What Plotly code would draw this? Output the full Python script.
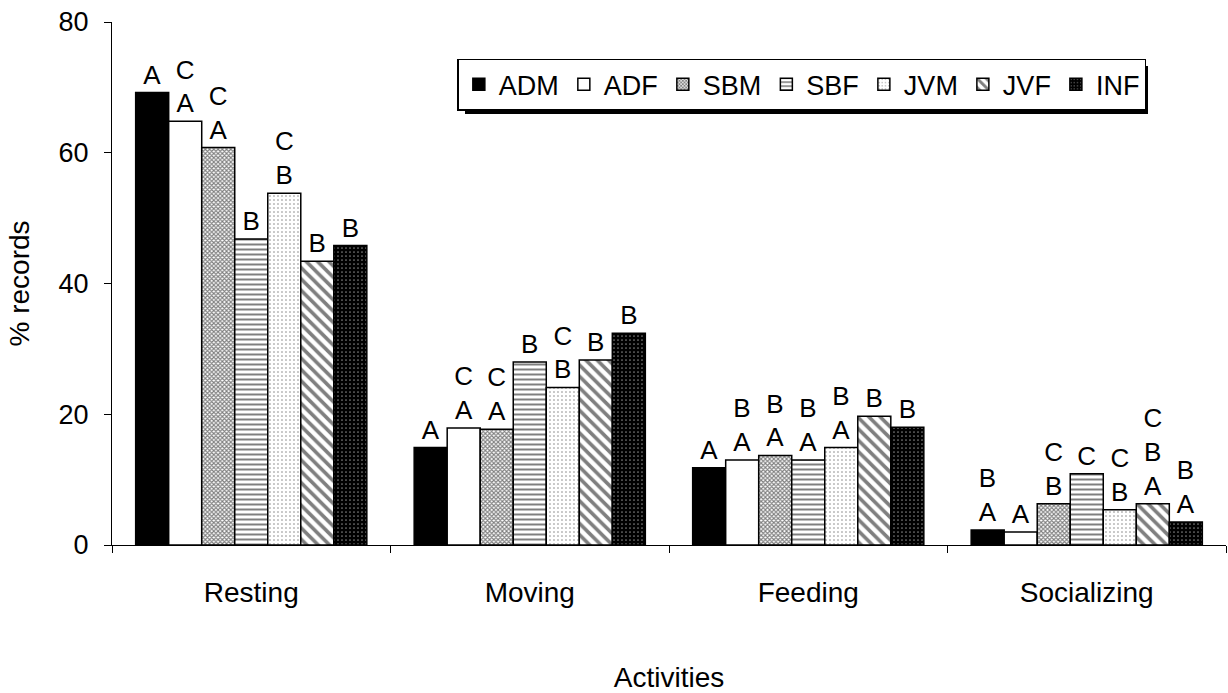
import plotly.graph_objects as go

categories = ["Resting", "Moving", "Feeding", "Socializing"]
groups = ["ADM", "ADF", "SBM", "SBF", "JVM", "JVF", "INF"]

ADM = [69.2, 14.9, 11.8, 2.3]
ADF = [64.8, 17.9, 13.0, 2.0]
SBM = [60.8, 17.7, 13.7, 6.3]
SBF = [46.8, 28.0, 13.0, 10.9]
JVM = [53.8, 24.1, 14.9, 5.4]
JVF = [43.4, 28.3, 19.7, 6.3]
INF = [45.8, 32.4, 18.0, 3.5]

ADM_letters = ["A", "A", "A", "B<br>A"]
ADF_letters = ["C<br>A", "C<br>A", "B<br>A", "A"]
SBM_letters = ["C<br>A", "C<br>A", "B<br>A", "C<br>B"]
SBF_letters = ["B", "B", "B<br>A", "C"]
JVM_letters = ["C<br>B", "C<br>B", "B<br>A", "C<br>B"]
JVF_letters = ["B", "B", "B", "C<br>B<br>A"]
INF_letters = ["B", "B", "B", "B<br>A"]

y_ticks = [0, 20, 40, 60, 80]

values = [ADM, ADF, SBM, SBF, JVM, JVF, INF]
letters = [ADM_letters, ADF_letters, SBM_letters, SBF_letters,
           JVM_letters, JVF_letters, INF_letters]

styles = {
    "ADM": dict(color="black"),
    "ADF": dict(color="white"),
    "SBM": dict(color="white", pattern=dict(shape="x", fgcolor="black", bgcolor="white",
                                            size=3, solidity=0.6, fillmode="overlay")),
    "SBF": dict(color="white", pattern=dict(shape="-", fgcolor="black", bgcolor="white",
                                            size=5, solidity=0.4, fillmode="overlay")),
    "JVM": dict(color="white", pattern=dict(shape=".", fgcolor="black", bgcolor="white",
                                            size=4, solidity=0.12, fillmode="overlay")),
    "JVF": dict(color="white", pattern=dict(shape="\\", fgcolor="black", bgcolor="white",
                                            size=8, solidity=0.45, fillmode="overlay")),
    "INF": dict(color="black", pattern=dict(shape=".", fgcolor="white", bgcolor="black",
                                            size=4, solidity=0.15, fillmode="overlay")),
}

FONT = "Liberation Sans, Arial, sans-serif"

fig = go.Figure()
for name, vals, labs in zip(groups, values, letters):
    st = styles[name]
    marker = dict(color=st["color"], line=dict(color="black", width=1.5))
    if "pattern" in st:
        marker["pattern"] = st["pattern"]
    fig.add_trace(go.Bar(
        name=name, x=categories, y=vals, text=labs,
        textposition="outside", cliponaxis=False, constraintext="none",
        textfont=dict(size=26, color="black", family=FONT),
        marker=marker,
    ))

fig.update_layout(
    width=1228, height=693,
    margin=dict(l=112, r=2, t=22, b=148),
    paper_bgcolor="white", plot_bgcolor="white",
    barmode="group", bargap=0.17, bargroupgap=0,
    font=dict(family=FONT, size=26, color="black"),
    showlegend=True,
    legend=dict(orientation="h", x=0.31, y=0.93, xanchor="left", yanchor="top",
                bgcolor="white", bordercolor="black", borderwidth=1.5,
                font=dict(size=27, family=FONT), traceorder="normal",
                itemclick=False),
    uniformtext=dict(minsize=26, mode="show"),
)

fig.update_xaxes(
    type="category", range=[-0.5, 3.5], tickson="boundaries",
    ticks="outside", ticklen=7, tickcolor="black",
    showline=True, linecolor="black", linewidth=1,
    tickfont=dict(size=28), ticklabelstandoff=22,
    title=dict(text="Activities", font=dict(size=28), standoff=60),
    showgrid=False, zeroline=False, automargin=False,
)
fig.update_yaxes(
    range=[0, 80], tickvals=y_ticks, ticks="outside", ticklen=7,
    tickcolor="black", showline=True, linecolor="black", linewidth=1,
    tickfont=dict(size=27), ticklabelstandoff=10,
    title=dict(text="% records", font=dict(size=28), standoff=20),
    showgrid=False, zeroline=False, automargin=False,
)

# legend drop shadow
fig.add_shape(type="rect", xref="paper", yref="paper",
              x0=(465 - 112) / 1114, x1=(1148 - 112) / 1114,
              y0=(545 - 114) / 523, y1=(545 - 66) / 523,
              fillcolor="black", line=dict(width=0), layer="above")

fig.write_html("out.html", post_script="document.body.style.margin='0';",
               config={"displayModeBar": False})
